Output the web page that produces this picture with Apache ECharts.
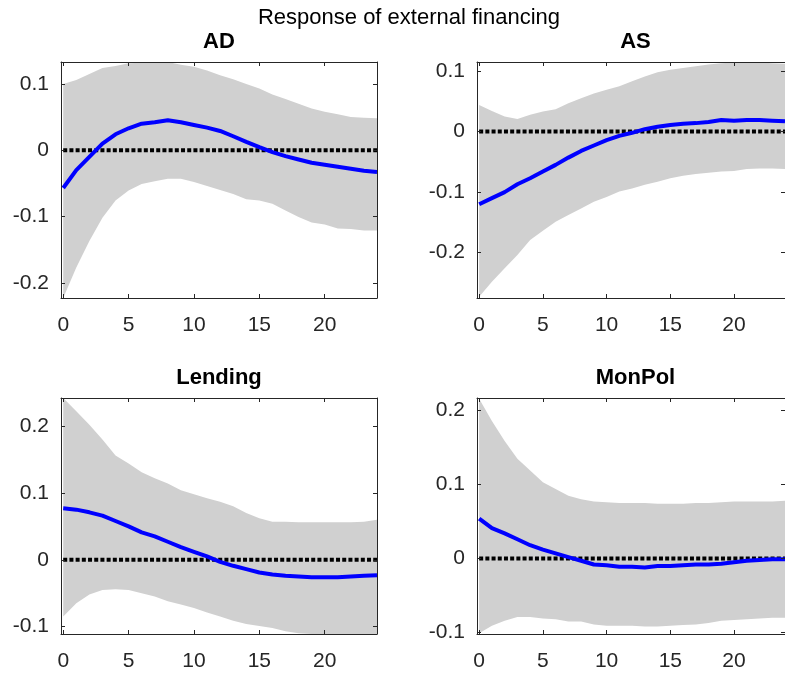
<!DOCTYPE html>
<html>
<head>
<meta charset="utf-8">
<script src="https://cdn.jsdelivr.net/npm/echarts@6/dist/echarts.min.js"></script>
<style>
  html, body { margin: 0; padding: 0; background: #ffffff; }
  #chart { width: 785px; height: 673px; }
</style>
</head>
<body>
<div id="chart"></div>
<script>
// ---------- data ----------
const steps = [0,1,2,3,4,5,6,7,8,9,10,11,12,13,14,15,16,17,18,19,20,21,22,23,24];
const xTicks = [0, 5, 10, 15, 20];
const supTitle = 'Response of external financing';
const panelNames = ['AD', 'AS', 'Lending', 'MonPol'];

const adMed = [-0.057,-0.030,-0.010,0.010,0.024,0.033,0.040,0.042,0.045,0.042,0.038,0.034,0.029,0.021,0.0125,0.0045,-0.003,-0.009,-0.014,-0.019,-0.022,-0.025,-0.028,-0.031,-0.033];
const adUp  = [0.100,0.106,0.115,0.124,0.127,0.131,0.132,0.133,0.133,0.129,0.126,0.120,0.113,0.107,0.100,0.093,0.084,0.077,0.070,0.063,0.058,0.054,0.050,0.049,0.048];
const adLo  = [-0.223,-0.177,-0.137,-0.102,-0.076,-0.061,-0.051,-0.047,-0.043,-0.043,-0.048,-0.054,-0.060,-0.066,-0.074,-0.076,-0.081,-0.091,-0.101,-0.109,-0.112,-0.118,-0.119,-0.121,-0.121];

const asMed = [-0.120,-0.110,-0.100,-0.087,-0.077,-0.066,-0.055,-0.043,-0.032,-0.023,-0.014,-0.007,-0.002,0.004,0.008,0.011,0.013,0.014,0.016,0.019,0.018,0.019,0.019,0.018,0.017];
const asUp  = [0.044,0.034,0.025,0.021,0.028,0.033,0.037,0.047,0.055,0.063,0.069,0.075,0.083,0.091,0.098,0.102,0.105,0.108,0.111,0.113,0.114,0.115,0.114,0.113,0.112];
const asLo  = [-0.273,-0.248,-0.226,-0.204,-0.179,-0.164,-0.149,-0.138,-0.127,-0.116,-0.108,-0.099,-0.094,-0.088,-0.083,-0.077,-0.073,-0.070,-0.068,-0.066,-0.065,-0.062,-0.061,-0.061,-0.062];

const lendMed = [0.077,0.075,0.071,0.066,0.058,0.050,0.041,0.035,0.027,0.019,0.012,0.005,-0.003,-0.009,-0.014,-0.019,-0.022,-0.024,-0.025,-0.026,-0.026,-0.026,-0.025,-0.024,-0.023];
const lendUp  = [0.242,0.222,0.202,0.180,0.156,0.144,0.131,0.122,0.114,0.104,0.098,0.092,0.087,0.080,0.070,0.062,0.057,0.057,0.056,0.056,0.056,0.056,0.056,0.057,0.060];
const lendLo  = [-0.085,-0.065,-0.052,-0.045,-0.044,-0.045,-0.050,-0.055,-0.062,-0.067,-0.072,-0.079,-0.085,-0.091,-0.096,-0.099,-0.102,-0.107,-0.110,-0.111,-0.111,-0.111,-0.111,-0.111,-0.111];

const monMed = [0.054,0.041,0.034,0.026,0.018,0.012,0.007,0.002,-0.003,-0.008,-0.009,-0.011,-0.011,-0.012,-0.010,-0.010,-0.009,-0.008,-0.008,-0.007,-0.005,-0.003,-0.002,-0.001,-0.001];
const monUp  = [0.216,0.186,0.159,0.135,0.119,0.103,0.094,0.085,0.080,0.077,0.076,0.075,0.075,0.075,0.074,0.074,0.074,0.075,0.075,0.076,0.077,0.077,0.077,0.077,0.078];
const monLo  = [-0.101,-0.091,-0.084,-0.079,-0.079,-0.081,-0.082,-0.085,-0.085,-0.089,-0.091,-0.091,-0.091,-0.092,-0.092,-0.091,-0.090,-0.089,-0.087,-0.084,-0.083,-0.082,-0.081,-0.080,-0.080];

const yTicksAD = [-0.2, -0.1, 0, 0.1];
const yTicksAS = [-0.2, -0.1, 0, 0.1];
const yTicksLend = [-0.1, 0, 0.1, 0.2];
const yTicksMon = [-0.1, 0, 0.1, 0.2];

const yRangeAD = [-0.223, 0.133];
const yRangeAS = [-0.275, 0.115];
const yRangeLend = [-0.111, 0.242];
const yRangeMon = [-0.102, 0.217];

// ---------- layout / style ----------
const FONT = "'Liberation Sans', Arial, Helvetica, sans-serif";
const AXIS_COLOR = '#262626';
const BAND_COLOR = '#d0d0d0';
const X_MIN = -0.17, X_MAX = 24;

const panels = [
  { name: panelNames[0], med: adMed, up: adUp, lo: adLo, yTicks: yTicksAD, yRange: yRangeAD, grid: { left: 61, top: 62, width: 316, height: 236 } },
  { name: panelNames[1], med: asMed, up: asUp, lo: asLo, yTicks: yTicksAS, yRange: yRangeAS, grid: { left: 477, top: 62, width: 317, height: 236 } },
  { name: panelNames[2], med: lendMed, up: lendUp, lo: lendLo, yTicks: yTicksLend, yRange: yRangeLend, grid: { left: 61, top: 398, width: 316, height: 236 } },
  { name: panelNames[3], med: monMed, up: monUp, lo: monLo, yTicks: yTicksMon, yRange: yRangeMon, grid: { left: 477, top: 398, width: 317, height: 236 } }
];

const grids = [], xAxes = [], yAxes = [], series = [], graphics = [];

function axisCommon() {
  return {
    z: 10,
    axisLine: { show: true, onZero: false, lineStyle: { color: AXIS_COLOR, width: 1 } },
    splitLine: { show: false }
  };
}

panels.forEach(function (p, gi) {
  grids.push(Object.assign({ containLabel: false }, p.grid));
  const xi = xAxes.length, yi = yAxes.length;
  // bottom x
  xAxes.push(Object.assign(axisCommon(), {
    type: 'value', gridIndex: gi, position: 'bottom', min: X_MIN, max: X_MAX,
    axisTick: { show: true, inside: true, length: 4, customValues: xTicks, lineStyle: { color: AXIS_COLOR } },
    axisLabel: { show: true, customValues: xTicks, margin: 17, color: AXIS_COLOR, fontSize: 21, fontFamily: FONT,
                 formatter: function (v) { return String(v); } }
  }));
  // top x (box + ticks)
  xAxes.push(Object.assign(axisCommon(), {
    type: 'value', gridIndex: gi, position: 'top', min: X_MIN, max: X_MAX,
    axisTick: { show: true, inside: true, length: 4, customValues: xTicks, lineStyle: { color: AXIS_COLOR } },
    axisLabel: { show: false }
  }));
  // left y
  yAxes.push(Object.assign(axisCommon(), {
    type: 'value', gridIndex: gi, position: 'left', min: p.yRange[0], max: p.yRange[1],
    axisTick: { show: true, inside: true, length: 4, customValues: p.yTicks, lineStyle: { color: AXIS_COLOR } },
    axisLabel: { show: true, customValues: p.yTicks, margin: 12, color: AXIS_COLOR, fontSize: 21, fontFamily: FONT,
                 formatter: function (v) { return String(Math.round(v * 10) / 10); } }
  }));
  // right y
  yAxes.push(Object.assign(axisCommon(), {
    type: 'value', gridIndex: gi, position: 'right', min: p.yRange[0], max: p.yRange[1],
    axisTick: { show: true, inside: true, length: 4, customValues: p.yTicks, lineStyle: { color: AXIS_COLOR } },
    axisLabel: { show: false }
  }));

  // confidence band as a single polygon through the axes' scales
  series.push({
    type: 'custom', xAxisIndex: xi, yAxisIndex: yi, z: 1, clip: true, silent: true,
    encode: { x: 0, y: [1, 2] },
    data: steps.map(function (t, i) { return [t, p.lo[i], p.up[i]]; }),
    renderItem: function (params, api) {
      if (params.dataIndexInside !== 0) return null;
      const n = params.dataInsideLength;
      const top = [], bot = [];
      for (let j = 0; j < n; j++) {
        const x = api.value(0, j);
        top.push(api.coord([x, api.value(2, j)]));
        bot.push(api.coord([x, api.value(1, j)]));
      }
      return { type: 'polygon', shape: { points: top.concat(bot.reverse()) }, style: { fill: BAND_COLOR, stroke: null } };
    }
  });
  // zero reference line
  series.push({
    type: 'line', xAxisIndex: xi, yAxisIndex: yi, z: 2, silent: true, symbol: 'none',
    data: steps.map(function (t) { return [t, 0]; }),
    lineStyle: { color: '#000000', width: 4, type: [4, 2.2], cap: 'butt' }
  });
  // median response
  series.push({
    type: 'line', xAxisIndex: xi, yAxisIndex: yi, z: 3, silent: true, symbol: 'none',
    data: steps.map(function (t, i) { return [t, p.med[i]]; }),
    lineStyle: { color: '#0000ff', width: 4 }
  });

  // panel title
  graphics.push({
    type: 'text', x: p.grid.left + p.grid.width / 2, y: p.grid.top - 20,
    style: { text: p.name, font: 'bold 22px ' + FONT, fill: '#000000', textAlign: 'center', textVerticalAlign: 'middle' }
  });
});

graphics.push({
  type: 'text', x: 409, y: 18,
  style: { text: supTitle, font: '22px ' + FONT, fill: '#000000', textAlign: 'center', textVerticalAlign: 'middle' }
});

const chart = echarts.init(document.getElementById('chart'), null, { renderer: 'canvas' });
chart.setOption({
  animation: false,
  backgroundColor: '#ffffff',
  grid: grids,
  xAxis: xAxes,
  yAxis: yAxes,
  series: series,
  graphic: graphics
});
</script>
</body>
</html>
